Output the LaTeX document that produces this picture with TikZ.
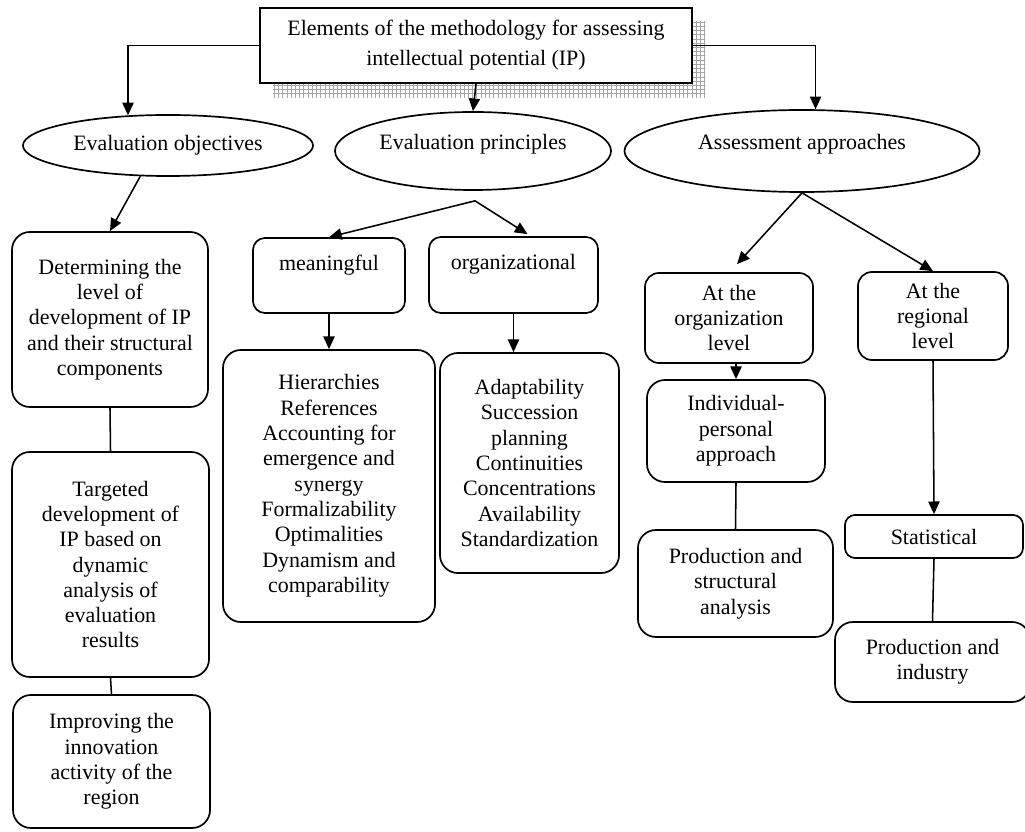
\documentclass[tikz,border=0pt]{standalone}
\usepackage{fontspec}
\setmainfont{Liberation Serif}
\usetikzlibrary{shapes.geometric,arrows.meta,shadows,patterns,calc}
\begin{document}
\begin{tikzpicture}[x=0.025cm,y=-0.025cm,>={Triangle[length=9pt,width=8pt]},
every node/.style={font=\fontsize{15.6}{18}\selectfont,align=center,inner sep=2pt},
oval/.style={draw,ellipse,line width=1.2pt,inner sep=0pt},
box/.style={draw,rectangle,rounded corners=0.45cm,line width=1.2pt},
link/.style={line width=1.1pt}]
\useasboundingbox (0,0) rectangle (1025,832);
\node[draw,fill=white,line width=1.2pt,minimum width=10.8cm,minimum height=1.875cm,font=\fontsize{15.6}{21.5}\selectfont,
	general shadow={pattern=grid,pattern color=gray!70,shadow xshift=0.33cm,shadow yshift=-0.35cm}]
	(top) at (476,45.5) {Elements of the methodology for assessing\\intellectual potential (IP)};
\node[oval,minimum width=7.25cm,minimum height=1.525cm] (obj) at (168,145.5) {Evaluation objectives};
\node[oval,text depth=0.45cm,minimum width=6.9cm,minimum height=1.95cm] (prin) at (473,151) {Evaluation principles};
\node[oval,text depth=0.45cm,minimum width=8.875cm,minimum height=2.05cm] (appr) at (802,151) {Assessment approaches};
\node[box,minimum width=4.9cm,minimum height=4.375cm] (det) at (110,319.5)
	{Determining the\\level of\\development of IP\\and their structural\\components};
\node[box,minimum width=4.925cm,minimum height=5.625cm] (tgt) at (110.5,564.5)
	{Targeted\\development of\\IP based on\\dynamic\\analysis of\\evaluation\\results};
\node[box,minimum width=4.925cm,minimum height=3.325cm] (imp) at (111.5,761.5)
	{Improving the\\innovation\\activity of the\\region};
\node[box,rounded corners=0.3cm,minimum width=3.8cm,minimum height=1.875cm] (mean) at (329,275.5) {meaningful\\\mbox{}};
\node[box,rounded corners=0.3cm,minimum width=4.225cm,minimum height=1.9cm] (org) at (513.5,275) {organizational\\\mbox{}};
\node[box,minimum width=5.3cm,minimum height=6.8cm] (hier) at (329,486)
	{Hierarchies\\References\\Accounting for\\emergence and\\synergy\\Formalizability\\Optimalities\\Dynamism and\\comparability};
\node[box,minimum width=4.475cm,minimum height=5.5cm] (adap) at (529.5,463)
	{Adaptability\\Succession\\planning\\Continuities\\Concentrations\\Availability\\Standardization};
\node[box,rounded corners=0.35cm,minimum width=4.2cm,minimum height=2.25cm] (orglev) at (729,318) {At the\\organization\\level};
\node[box,rounded corners=0.35cm,minimum width=3.75cm,minimum height=2.2cm] (reglev) at (933,316) {At the\\regional\\level};
\node[box,minimum width=4.45cm,minimum height=2.55cm] (ind) at (736,431) {Individual-\\personal\\approach};
\node[box,minimum width=4.875cm,minimum height=2.675cm] (prodstr) at (735.5,583.5) {Production and\\structural\\analysis};
\node[box,rounded corners=0.25cm,minimum width=4.45cm,minimum height=1.075cm] (stat) at (934,536.5) {Statistical};
\node[box,minimum width=4.875cm,minimum height=2cm] (prodind) at (932.5,662) {Production and\\industry};
\coordinate (pfork) at ($(prin.south)+(2,10)$);
\draw[link,->] (top.west) -| (obj.143);
\draw[link,->] (top.east) -| (appr.72);
\draw[link,->] (top.south) -- (prin.north);
\draw[link,->] (obj.228) -- (det.north);
\draw[link] (det.south) -- (tgt.north);
\draw[link] (tgt.south) -- (imp.north);
\draw[link,->] (pfork) -- (mean.north);
\draw[link,->] (pfork) -- ($(org.north)+(14,-2)$);
\draw[link,->] (mean.south) -- (hier.north);
\draw[link,->] (org.south) -- (org.south |- adap.north);
\draw[link,->] (appr.south) -- ($(orglev.north)+(8,-8)$);
\draw[link,->] (appr.south) -- (reglev.north);
\draw[link,->] (ind.north |- orglev.south) -- (ind.north);
\draw[link] (ind.south) -- (prodstr.north);
\draw[link,->] (reglev.south) -- (stat.north);
\draw[link] (stat.south) -- (prodind.north);
\end{tikzpicture}
\end{document}
